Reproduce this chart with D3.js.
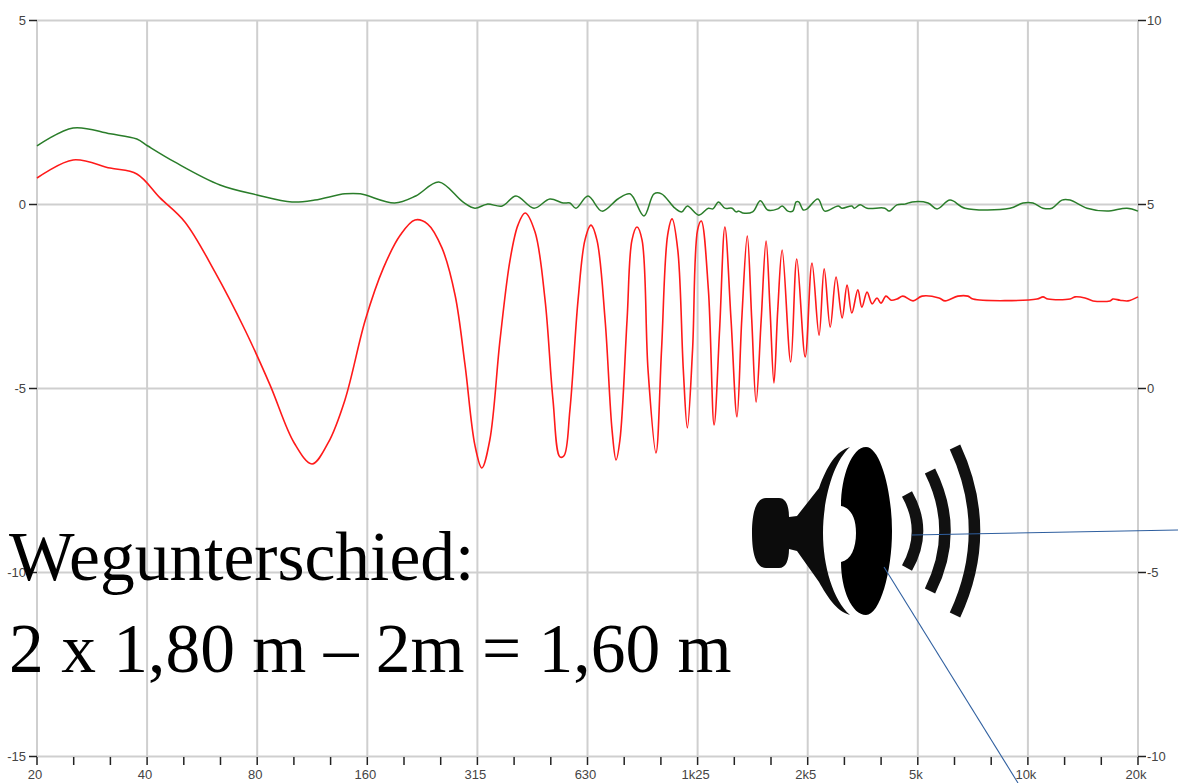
<!DOCTYPE html>
<html><head><meta charset="utf-8">
<script src="https://cdn.jsdelivr.net/npm/d3@7"></script>
<style>html,body{margin:0;background:#fff;overflow:hidden}svg{display:block}</style></head>
<body><svg id="c" width="1178" height="783"></svg>
<script>
const octaveHz=[20,40,80,160,320,640,1280,2560,5120,10240,20480];
const octaveLabels=["20","40","80","160","315","630","1k25","2k5","5k","10k","20k"];
const leftTicks=[5,0,-5,-10,-15];
const rightLabels=["10","5","0","-5","-10"];
const annotationLines=["Wegunterschied:","2 x 1,80 m – 2m = 1,60 m"];
const redHz=[20.0,25.1,31.7,37.5,43.4,50.8,61.3,74.1,86.7,101,113,125,139,158,177,197,216,234,256,278,296,315,329,346,369,393,413,432,460,490,515,538,552,573,603,630,654,679,715,747,766,785,821,847,874,902,937,985,1020,1060,1090,1130,1170,1200,1240,1280,1310,1370,1420,1470,1520,1580,1640,1690,1750,1800,1850,1910,1970,2020,2070,2120,2180,2300,2390,2520,2630,2750,2840,2950,3060,3180,3280,3380,3510,3600,3720,3840,3960,4060,4190,4330,4490,4660,4970,5260,5850,6080,6590,7020,7250,10840,11260,11620,13350,13770,14670,15430,17170,17500,18290,19230,20480];
const redDb=[0.72,1.21,0.99,0.83,0.18,-0.48,-1.83,-3.41,-4.90,-6.48,-7.05,-6.48,-5.31,-3.14,-1.73,-0.83,-0.42,-0.53,-1.18,-2.46,-4.36,-6.54,-7.16,-6.40,-3.68,-1.51,-0.56,-0.23,-0.75,-2.60,-5.31,-6.86,-6.83,-5.58,-2.60,-0.96,-0.56,-0.96,-3.14,-6.13,-6.94,-6.40,-3.14,-0.96,-0.61,-0.96,-4.50,-6.75,-3.95,-0.83,-0.39,-1.24,-4.50,-6.07,-3.95,-0.69,-0.45,-2.32,-5.99,-3.41,-0.61,-3.14,-5.77,-3.14,-0.86,-3.14,-5.37,-3.14,-0.99,-2.87,-4.85,-2.87,-1.24,-4.28,-1.48,-4.14,-1.59,-3.55,-1.75,-3.33,-1.97,-3.08,-2.19,-2.95,-2.32,-2.79,-2.38,-2.70,-2.54,-2.68,-2.49,-2.60,-2.57,-2.49,-2.62,-2.49,-2.54,-2.62,-2.49,-2.49,-2.57,-2.57,-2.51,-2.57,-2.57,-2.51,-2.54,-2.62,-2.62,-2.57,-2.60,-2.62,-2.51];
const greenHz=[20.0,25.1,31.7,37.5,40.2,47.7,63.3,79.9,99.6,115,139,153,190,217,251,292,315,340,374,408,457,505,549,573,595,642,701,775,836,913,973,1020,1110,1160,1200,1290,1370,1410,1460,1520,1590,1630,1660,1700,1810,1900,1990,2120,2180,2260,2330,2380,2420,2490,2550,2730,2850,3100,3180,3380,3430,3560,3720,4160,4270,4490,4720,4940,5460,5780,6270,6890,9150,9930,10570,11260,11920,12690,13350,14860,16850,19110,20480];
const greenDb=[1.59,2.08,1.92,1.78,1.59,1.15,0.53,0.26,0.07,0.12,0.29,0.29,0.04,0.23,0.61,0.07,-0.10,0.01,-0.04,0.23,-0.10,0.15,0.04,0.04,-0.10,0.23,-0.18,0.15,0.29,-0.31,0.29,0.29,-0.10,-0.20,-0.04,-0.29,-0.10,-0.12,0.07,-0.10,-0.10,-0.20,-0.18,-0.23,-0.20,0.10,-0.15,-0.12,-0.04,-0.18,-0.18,0.07,0.07,-0.15,-0.12,0.15,-0.18,-0.04,-0.10,-0.04,-0.10,-0.01,-0.10,-0.10,-0.18,-0.01,0.01,0.07,0.04,-0.12,0.12,-0.10,-0.10,0.04,0.04,-0.10,-0.10,0.12,0.12,-0.10,-0.18,-0.10,-0.18];

const svg=d3.select("#c");
const x=d3.scaleLog().base(2).domain([20,20480]).range([37,1138]);
const y=d3.scaleLinear().domain([-15,5]).range([756.5,20.5]);
const label="'Liberation Sans Narrow','Liberation Sans',sans-serif";

// grid
const grid=svg.append("g").attr("stroke","#cfcfcf").attr("stroke-width",2);
octaveHz.forEach(h=>grid.append("line").attr("x1",x(h)).attr("x2",x(h)).attr("y1",y(5)).attr("y2",y(-15)));
leftTicks.forEach(v=>grid.append("line").attr("x1",x(20)).attr("x2",x(20480)).attr("y1",y(v)).attr("y2",y(v)));

// axes
const minorHz=d3.range(0,31).map(k=>20*Math.pow(2,k/3));
const ax=svg.append("g").attr("stroke","#222").attr("stroke-width",1.5);
minorHz.forEach(h=>ax.append("line").attr("x1",x(h)).attr("x2",x(h)).attr("y1",757).attr("y2",765));
leftTicks.forEach(v=>{
  ax.append("line").attr("x1",29).attr("x2",37).attr("y1",y(v)).attr("y2",y(v));
  ax.append("line").attr("x1",1138).attr("x2",1146).attr("y1",y(v)).attr("y2",y(v));
});
const lab=svg.append("g").attr("font-family",label).attr("font-size",13).attr("fill","#444");
leftTicks.forEach((v,i)=>{
  lab.append("text").attr("x",26).attr("y",y(v)+4).attr("text-anchor","end").text(v);
  lab.append("text").attr("x",1147).attr("y",y(v)+4).text(rightLabels[i]);
});
octaveHz.forEach((h,i)=>lab.append("text").attr("x",x(h)-2).attr("y",779).attr("text-anchor","middle").text(octaveLabels[i]));

// curves
const line=d3.line().x(d=>x(d[0])).y(d=>y(d[1])).curve(d3.curveCatmullRom.alpha(0.5));
svg.append("path").attr("d",line(d3.zip(greenHz,greenDb))).attr("fill","none").attr("stroke","#2a7d2a").attr("stroke-width",1.5);
svg.append("path").attr("d",line(d3.zip(redHz,redDb))).attr("fill","none").attr("stroke","#ff1a1a").attr("stroke-width",1.6);

// annotation
annotationLines.forEach((t,i)=>svg.append("text").attr("x",9).attr("y",580+i*92)
  .attr("font-family","'Liberation Serif',serif").attr("font-size",69.5).attr("fill","#000").text(t));

// loudspeaker pictogram
const sp=svg.append("g");
sp.append("path").attr("fill","#0c0c0c").attr("d","M752 533C752 510 757 498 766 498H779C786 498 789 506 789 517L797 516L819 488C827 466 836 451 850 447C833 462 823 500 823 533C823 566 833 600 850 615C836 611 827 596 819 582L797 551L789 549C789 560 786 568 779 568H766C757 568 752 556 752 533Z");
sp.append("path").attr("fill","#000").attr("d","M866 447C880 447 892 490 892 531C892 572 880 615 866 615C852 615 841 590 841 562C851 560 856 548 856 533C856 518 851 508 841 506C841 476 852 447 866 447Z");
sp.append("g").attr("fill","none").attr("stroke","#111").attr("stroke-width",11.5)
 .selectAll("path").data([[907,494,928,568],[930,471,960,591],[955,447,994,615]]).join("path")
 .attr("d",d=>`M${d[0]} ${d[1]}Q${d[2]} 531 ${d[0]} ${d[3]}`);
svg.append("g").attr("stroke","#2f5f9f").attr("stroke-width",1.1)
 .selectAll("line").data([[912,535,1178,530],[884,567,1018,783]]).join("line")
 .attr("x1",d=>d[0]).attr("y1",d=>d[1]).attr("x2",d=>d[2]).attr("y2",d=>d[3]);
</script></body></html>
